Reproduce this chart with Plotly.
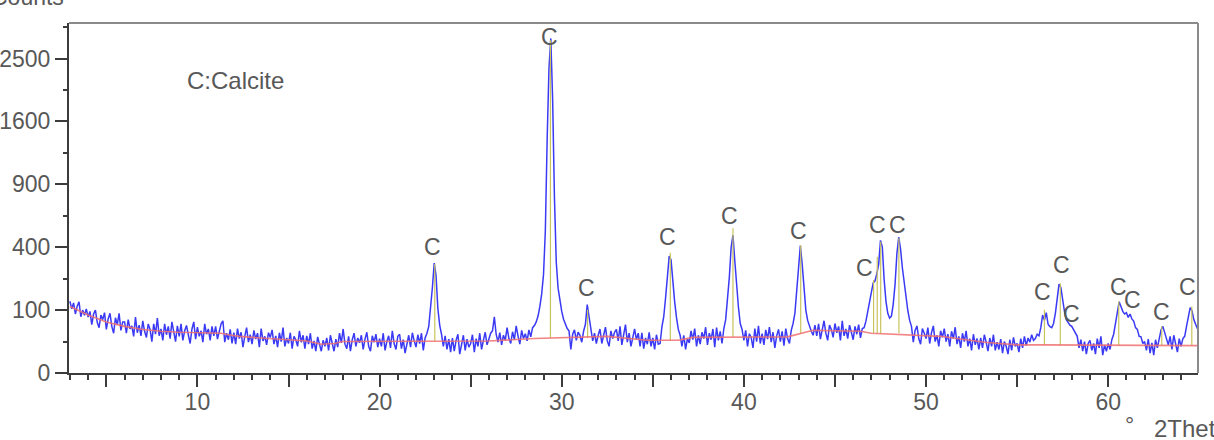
import numpy as np
import plotly.graph_objects as go

# ---------------- data ----------------
start_angle = 3.0     # first scan point, degrees 2Theta
angle_step = 0.1      # scan step, degrees

counts = [
    130, 104, 124, 88, 113, 128, 80, 100, 84, 104,        # 3
    79, 96, 59, 88, 100, 65, 52, 85, 72, 92,              # 4
    48, 74, 90, 55, 40, 77, 59, 90, 46, 66,               # 5
    66, 40, 72, 49, 56, 34, 79, 41, 58, 35,               # 6
    69, 44, 32, 61, 48, 25, 61, 38, 76, 35,               # 7
    49, 27, 61, 37, 55, 30, 66, 41, 25, 56,               # 8
    34, 61, 27, 45, 57, 37, 22, 49, 66, 29,               # 9
    53, 34, 45, 24, 61, 38, 49, 27, 55, 35,               # 10
    55, 29, 45, 61, 69, 24, 40, 28, 48, 22,               # 11
    41, 21, 50, 30, 42, 17, 34, 52, 24, 37,               # 12
    21, 46, 29, 40, 17, 50, 26, 34, 20, 41,               # 13
    32, 47, 21, 35, 17, 41, 25, 52, 18, 31,               # 14
    22, 41, 15, 34, 28, 18, 45, 24, 36, 15,               # 15
    35, 21, 40, 15, 26, 12, 33, 20, 12, 27,               # 16
    18, 31, 13, 36, 24, 12, 29, 17, 40, 23,               # 17
    49, 21, 15, 34, 12, 28, 40, 18, 31, 23,               # 18
    36, 14, 29, 42, 18, 12, 35, 24, 38, 17,               # 19
    30, 18, 40, 13, 25, 35, 16, 45, 22, 14,               # 20
    34, 38, 15, 28, 10, 23, 36, 17, 41, 26,               # 21
    17, 37, 22, 40, 13, 31, 40, 55, 100, 185,             # 22
    305, 240, 105, 58, 38, 18, 35, 14, 29, 11,            # 23
    31, 12, 27, 38, 9, 22, 36, 13, 29, 17,                # 24
    22, 37, 11, 30, 18, 40, 14, 27, 42, 20,               # 25
    30, 40, 45, 80, 38, 24, 41, 20, 36, 27,               # 26
    52, 30, 22, 43, 28, 56, 35, 21, 46, 30,               # 27
    39, 26, 47, 33, 52, 57, 66, 82, 112, 158,             # 28
    245, 510, 1380, 2350, 2830, 1900, 780, 310, 182, 128, # 29
    96, 73, 60, 50, 45, 14, 38, 47, 27, 42,               # 30
    36, 24, 44, 60, 118, 82, 45, 26, 40, 22,              # 31
    36, 49, 22, 40, 53, 26, 18, 45, 30, 42,               # 32
    48, 26, 55, 20, 36, 59, 24, 40, 18, 35,               # 33
    49, 28, 40, 18, 41, 15, 31, 21, 42, 18,               # 34
    31, 14, 37, 21, 22, 54, 80, 142, 235, 345,            # 35
    325, 205, 128, 78, 48, 36, 18, 36, 14, 30,            # 36
    23, 45, 28, 50, 18, 36, 21, 42, 30, 53,               # 37
    20, 40, 28, 49, 17, 52, 27, 44, 22, 50,               # 38
    72, 140, 230, 400, 480, 320, 190, 110, 62, 48,        # 39
    27, 46, 18, 39, 32, 16, 50, 25, 56, 22,               # 40
    39, 20, 47, 29, 53, 24, 42, 16, 35, 48,               # 41
    25, 44, 19, 50, 30, 22, 46, 62, 90, 160,              # 42
    290, 410, 300, 170, 100, 70, 55, 44, 36, 58,          # 43
    35, 61, 29, 52, 69, 40, 27, 58, 48, 32,               # 44
    62, 41, 55, 27, 69, 35, 49, 30, 58, 42,               # 45
    28, 55, 38, 59, 31, 50, 52, 68, 92, 128,              # 46
    165, 205, 215, 250, 300, 445, 400, 220, 130, 90,      # 47
    76, 82, 120, 200, 360, 466, 390, 280, 200, 135,       # 48
    98, 70, 55, 24, 46, 56, 30, 21, 50, 40,               # 49
    30, 52, 22, 41, 56, 25, 36, 18, 45, 32,               # 50
    50, 25, 38, 18, 44, 30, 53, 21, 34, 16,               # 51
    40, 25, 45, 18, 30, 13, 38, 20, 30, 14,               # 52
    31, 16, 37, 24, 12, 31, 18, 37, 13, 24,               # 53
    14, 29, 10, 25, 18, 9, 28, 13, 32, 18,                # 54
    22, 11, 30, 16, 34, 19, 31, 24, 37, 27,               # 55
    30, 38, 35, 52, 85, 70, 92, 60, 54, 52,               # 56
    62, 90, 140, 200, 185, 135, 95, 72, 64, 58,           # 57
    55, 47, 40, 34, 16, 28, 12, 25, 9, 22,                # 58
    27, 13, 22, 9, 30, 16, 34, 8, 20, 12,                 # 59
    22, 14, 28, 38, 62, 95, 128, 112, 96, 88,             # 60
    92, 78, 88, 74, 68, 52, 48, 34, 33, 22,               # 61
    25, 13, 29, 10, 23, 8, 28, 16, 30, 47,                # 62
    55, 40, 31, 20, 34, 14, 36, 19, 11, 30,               # 63
    18, 30, 34, 55, 85, 108, 98, 72, 60, 50,              # 64
    45,                                                   # 65
]

# background line (red)
bg_angles = [3.0, 4.0, 5.0, 6.0, 7.0, 8.0, 9.0, 10.0, 11.3, 11.7, 12.3, 13.0,
             14.0, 15.0, 16.0, 16.8, 17.5, 18.0, 22.7, 23.4, 26.0, 28.5, 29.4,
             30.5, 32.5, 34.7, 36.4, 37.2, 39.4, 42.4, 43.8, 46.4, 47.0, 49.2,
             50.8, 53.2, 55.0, 56.4, 65.0]
bg_counts = [112, 85, 66, 55, 48, 44, 42, 41, 40, 37, 34, 32,
             30, 28, 26, 21, 22, 25, 25, 25, 26, 30, 31,
             31, 34, 27, 27, 32, 33, 33, 46, 44, 40, 37,
             34, 24, 20, 20, 19]

# reference sticks (yellow)
stick_angles = [23.03, 29.38, 31.42, 35.96, 39.40, 43.12, 47.12, 47.32, 47.51,
                48.51, 56.50, 57.37, 60.58, 62.94, 64.59]
stick_tops = [300, 2800, 101, 365, 530, 415, 219, 342, 436,
              459, 101, 204, 129, 55, 112]
stick_bases = [25, 31, 31, 27, 33, 39, 40, 40, 40,
               40, 20, 19, 19, 19, 19]

# phase labels
label_angles = [22.92, 29.35, 31.38, 35.83, 39.23, 43.02, 46.64, 47.36, 48.46,
                56.42, 57.41, 58.01, 60.59, 61.36, 62.95, 64.38]
label_counts = [402, 2850, 183, 469, 624, 511, 280, 554, 554,
                167, 295, 89, 188, 135, 95, 188]
label_texts = ["C"] * len(label_angles)

x_tick_labels = [10, 20, 30, 40, 50, 60]
y_tick_labels = [0, 100, 400, 900, 1600, 2500]

# ---------------- figure ----------------
FONT = "Liberation Sans, Arial, sans-serif"
TXT = "#585858"
AX = "#3c3c3c"

angles = np.round(start_angle + angle_step * np.arange(len(counts)), 2)

stick_x, stick_y = [], []
for a, b, t in zip(stick_angles, stick_bases, stick_tops):
    stick_x += [a, a, None]
    stick_y += [float(np.sqrt(b)), float(np.sqrt(t)), None]

fig = go.Figure()
fig.add_trace(go.Scatter(x=angles, y=np.sqrt(counts), mode="lines",
                         line=dict(color="#3a3af5", width=1.5), hoverinfo="skip"))
fig.add_trace(go.Scatter(x=stick_x, y=stick_y, mode="lines",
                         line=dict(color="#c8c45c", width=1.2), hoverinfo="skip"))
fig.add_trace(go.Scatter(x=bg_angles, y=np.sqrt(bg_counts), mode="lines",
                         line=dict(color="#f07070", width=1.6), opacity=0.85,
                         hoverinfo="skip"))

for a, c, t in zip(label_angles, label_counts, label_texts):
    fig.add_annotation(x=a, y=float(np.sqrt(c)), xref="x", yref="y", text=t,
                       showarrow=False, font=dict(family=FONT, size=23, color=TXT),
                       xanchor="center", yanchor="middle")

major_x = list(range(5, 61, 5))
major_x_text = [str(v) if v in x_tick_labels else "" for v in major_x]

fig.update_xaxes(range=[2.95, 64.93], showgrid=False, zeroline=False,
                 automargin=False,
                 showline=True, linecolor=AX, linewidth=2,
                 ticks="outside", tickvals=major_x, ticktext=major_x_text,
                 ticklen=12, tickwidth=1.5, tickcolor=AX, ticklabelstandoff=-5,
                 tickfont=dict(family=FONT, size=23, color=TXT),
                 minor=dict(dtick=1, tick0=0, ticks="outside", ticklen=5,
                            tickwidth=1.5, tickcolor=AX, showgrid=False))
fig.update_yaxes(range=[0, 55.65], showgrid=False, zeroline=False,
                 automargin=False,
                 showline=True, linecolor=AX, linewidth=2,
                 ticks="outside", tickvals=list(np.sqrt(y_tick_labels)),
                 ticktext=[str(v) for v in y_tick_labels],
                 ticklen=12, tickwidth=1.5, tickcolor=AX,
                 tickfont=dict(family=FONT, size=23, color=TXT),
                 minor=dict(dtick=5, tick0=0, ticks="outside", ticklen=4,
                            tickwidth=1.5, tickcolor=AX, showgrid=False))

# top and right frame
fig.add_shape(type="line", xref="paper", yref="paper", x0=0, x1=1, y0=1, y1=1,
              line=dict(color="#8a8a8a", width=2))
fig.add_shape(type="line", xref="paper", yref="paper", x0=1, x1=1, y0=0, y1=1,
              line=dict(color="#8a8a8a", width=2))

fig.add_annotation(text="C:Calcite", xref="paper", yref="paper", x=0.1025, y=0.836,
                   xanchor="left", yanchor="middle", showarrow=False,
                   font=dict(family=FONT, size=24, color=TXT))
fig.add_annotation(text="Counts", xref="paper", yref="paper", x=-0.003, y=1.073,
                   xanchor="right", yanchor="middle", showarrow=False,
                   font=dict(family=FONT, size=23, color=TXT))
fig.add_annotation(text="°", xref="paper", yref="paper", x=0.9389, y=-0.15,
                   xanchor="center", yanchor="middle", showarrow=False,
                   font=dict(family=FONT, size=23, color=TXT))
fig.add_annotation(text="2Theta", xref="paper", yref="paper", x=0.9593, y=-0.158,
                   xanchor="left", yanchor="middle", showarrow=False,
                   font=dict(family=FONT, size=24, color=TXT))

fig.update_layout(width=1214, height=440,
                  margin=dict(l=69, r=16, t=23, b=67, pad=0),
                  paper_bgcolor="white", plot_bgcolor="white",
                  showlegend=False)

fig.write_html("out.html")
